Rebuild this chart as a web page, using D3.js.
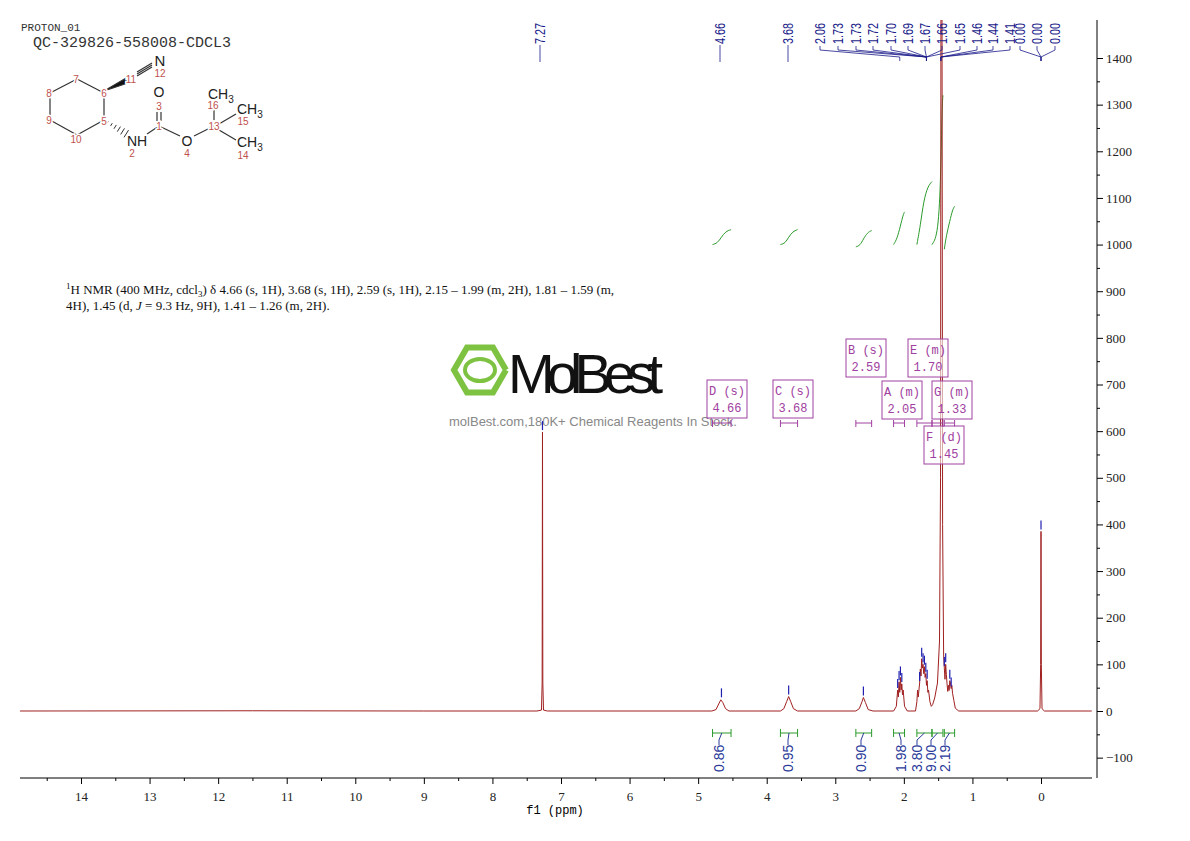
<!DOCTYPE html>
<html><head><meta charset="utf-8">
<script src="https://cdn.jsdelivr.net/npm/d3@7/dist/d3.min.js"></script>
<style>body{margin:0;background:#fff}svg{display:block}</style>
</head><body><svg id="c" width="1190" height="841"></svg>
<script>
// ---------- DATA ----------
const xTicks = [0,1,2,3,4,5,6,7,8,9,10,11,12,13,14];
const yTicks = [-100,0,100,200,300,400,500,600,700,800,900,1000,1100,1200,1300,1400];
// spectrum trace: [ppm, intensity]
const spectrum = [
[14.89,0],[11.5,0.5],[9,0],[7.35,0],[7.285,2],[7.275,60],[7.27,598],[7.265,60],[7.255,2],[7.2,0],
[4.80,0],[4.74,3],[4.70,15],[4.67,24],[4.64,18],[4.60,5],[4.55,0],
[3.80,0],[3.75,5],[3.71,20],[3.68,31],[3.65,20],[3.61,5],[3.55,0],
[2.70,0],[2.65,5],[2.61,20],[2.59,29],[2.56,18],[2.52,3],[2.45,0],
[2.15,0],[2.11,10],[2.09,45],[2.08,30],[2.07,62],[2.06,40],[2.05,72],[2.04,45],[2.03,58],[2.02,35],[2.01,45],[1.99,10],[1.95,0],
[1.83,0],[1.81,20],[1.80,45],[1.79,30],[1.77,60],[1.76,90],[1.75,75],[1.74,112],[1.73,92],[1.72,100],[1.71,80],[1.70,95],[1.69,72],[1.68,80],[1.67,55],[1.66,65],[1.65,40],[1.64,45],[1.62,20],[1.60,10],[1.58,14],[1.55,28],[1.51,60],[1.48,150],[1.465,500],[1.458,1700],[1.45,1700],[1.445,1700],[1.435,400],[1.42,120],[1.41,92],[1.40,68],[1.39,100],[1.38,78],[1.37,58],[1.36,42],[1.35,55],[1.34,44],[1.33,65],[1.32,60],[1.31,48],[1.30,55],[1.29,38],[1.27,22],[1.25,6],[1.20,0],
[0.05,0],[0.015,5],[0.005,100],[0,385],[-0.005,100],[-0.015,5],[-0.05,0],[-0.74,0]];
// peak-picked positions [ppm, intensity]
const picks = [[7.27,598],[4.66,25],[3.68,31],[2.59,29],[2.09,45],[2.07,62],[2.05,72],[2.03,58],[1.77,60],[1.74,112],[1.72,100],[1.70,95],[1.68,80],[1.66,65],[1.41,92],[1.39,100],[1.33,65],[1.31,48],[0,385]];
// top labels
const topLabels = ["7.27","4.66","3.68","2.06","1.73","1.73","1.72","1.70","1.69","1.67","1.66","1.65","1.46","1.44","1.41","0.00","0.00","0.00"];
const topPpm = [7.27,4.66,3.68,2.06,1.67,1.67,1.67,1.67,1.67,1.67,1.67,1.67,1.46,1.46,1.46,0,0,0];
const topLabelX = [540,720,788,820,838,856,873,891,908,925,942,960,977,993,1010,1020,1037,1055];
// integrals: [from ppm, to ppm, value, label x]
const integrals = [[4.79,4.52,"0.86",719],[3.80,3.55,"0.95",788],[2.70,2.47,"0.90",861],[2.15,1.99,"1.98",901],[1.81,1.59,"3.80",917],[1.59,1.43,"9.00",931],[1.41,1.26,"2.19",945]];
// integral curves [ppm, value]
const intCurves = [
 [[4.79,1000],[4.72,1003],[4.66,1016],[4.60,1028],[4.52,1032]],
 [[3.80,1000],[3.73,1003],[3.68,1016],[3.62,1028],[3.55,1032]],
 [[2.70,995],[2.64,998],[2.59,1012],[2.53,1026],[2.47,1030]],
 [[2.15,1000],[2.10,1012],[2.05,1040],[2.01,1064],[1.99,1070]],
 [[1.81,1000],[1.76,1040],[1.71,1095],[1.65,1125],[1.59,1135]],
 [[1.59,1000],[1.50,1020],[1.46,1150],[1.445,1290],[1.43,1320]],
 [[1.41,990],[1.38,1020],[1.33,1050],[1.29,1075],[1.26,1082]]];
// multiplets
const multiplets = [["D (s)","4.66",707,380,4.79,4.52],["C (s)","3.68",773,380,3.80,3.55],["B (s)","2.59",846,339,2.70,2.47],
 ["A (m)","2.05",882,381,2.15,1.99],["E (m)","1.70",908,339,1.81,1.59],["G (m)","1.33",932,381,1.41,1.26],["F (d)","1.45",924,426,1.59,1.43]];

// ---------- CHART ----------
const svg = d3.select("#c");
const x = d3.scaleLinear().domain([14,0]).range([81,1041]);
const y = d3.scaleLinear().domain([0,1400]).range([711,58]);
const L=20,R=1092,T=20,B=778;
svg.append("defs").append("clipPath").attr("id","pc").append("rect").attr("x",L).attr("y",T).attr("width",R-L).attr("height",B-T);

const xa = svg.append("g").attr("transform",`translate(0,${B})`)
 .call(d3.axisBottom(x).tickValues(xTicks).tickFormat(d3.format("d")).tickSize(6).tickPadding(8));
svg.append("g").attr("transform",`translate(0,${B})`).call(d3.axisBottom(x).tickValues(d3.range(0.5,15,1)).tickFormat("").tickSize(3)).select(".domain").remove();
xa.select(".domain").attr("d",`M${L},0H${R}`);
const ya = svg.append("g").attr("transform",`translate(1097,0)`)
 .call(d3.axisRight(y).tickValues(yTicks).tickFormat(d3.format("d")).tickSize(6).tickPadding(3));
ya.select(".domain").attr("d",`M0,${T}V${B}`);
svg.append("g").attr("transform",`translate(1097,0)`).call(d3.axisRight(y).tickValues(d3.range(-50,1450,100)).tickFormat("").tickSize(3)).select(".domain").remove();
svg.selectAll(".tick text").attr("font-family","Liberation Serif").attr("font-size",13).attr("fill","#222");
svg.append("text").attr("x",555).attr("y",814).attr("text-anchor","middle").attr("font-family","Liberation Mono").attr("font-size",12).text("f1 (ppm)");

// watermark
const wm = svg.append("g");
wm.append("path").attr("d",d3.line()(d3.range(7).map(i=>[480+26*Math.cos(Math.PI/3*i),370+26*Math.sin(Math.PI/3*i)]))).attr("fill","none").attr("stroke","#7ec242").attr("stroke-width",6);
wm.append("ellipse").attr("cx",480).attr("cy",370).attr("rx",15).attr("ry",11).attr("fill","none").attr("stroke","#7ec242").attr("stroke-width",4);
wm.append("text").attr("x",508).attr("y",393).attr("font-family","Liberation Sans Narrow, Liberation Sans").attr("font-size",56).attr("fill","#111").attr("textLength",155).text("MolBest");
wm.append("text").attr("x",593).attr("y",426).attr("text-anchor","middle").attr("font-family","Liberation Sans").attr("font-size",13).attr("fill","#888").text("molBest.com,180K+ Chemical Reagents In Stock.");

svg.append("g").selectAll("path").data(intCurves).join("path")
 .attr("d",d3.line().x(d=>x(d[0])).y(d=>y(d[1])).curve(d3.curveBasis))
 .attr("fill","none").attr("stroke","#2a9a2a").attr("stroke-width",1);

svg.append("path").attr("clip-path","url(#pc)").datum(spectrum)
 .attr("d",d3.line().x(d=>x(d[0])).y(d=>y(d[1])))
 .attr("fill","none").attr("stroke","#a02020").attr("stroke-width",1);
svg.append("g").selectAll("line").data(picks).join("line")
 .attr("x1",d=>x(d[0])).attr("x2",d=>x(d[0])).attr("y1",d=>y(d[1])-2).attr("y2",d=>y(d[1])-11)
 .attr("stroke","#2020b0").attr("stroke-width",1.2);

const tl = svg.append("g");
topLabels.forEach((t,i)=>{
 const lx=topLabelX[i], px=x(topPpm[i]);
 tl.append("text").attr("transform",`translate(${lx+5},44) rotate(-90)`).attr("font-family","Liberation Sans Narrow, Liberation Sans").attr("font-size",15).attr("fill","#1a1a8a").attr("textLength",21).attr("lengthAdjust","spacingAndGlyphs").text(t);
 tl.append("path").attr("d",i<3?`M${lx},45V62`:`M${lx},46V50L${px},57V61`).attr("fill","none").attr("stroke","#1a1a8a").attr("stroke-width",0.8);
});

const il = svg.append("g");
integrals.forEach(d=>{
 const a=x(d[0]), b=x(d[1]), c=(a+b)/2;
 il.append("path").attr("d",`M${a},729V737M${a},733H${b}M${b},729V737`).attr("stroke","#2a9a2a").attr("fill","none");
 il.append("path").attr("d",`M${c},733L${d[3]},740V745`).attr("stroke","#2a3a9a").attr("fill","none");
 il.append("text").attr("transform",`translate(${d[3]+5},772) rotate(-90)`).attr("font-family","Liberation Sans").attr("font-size",14).attr("fill","#2a3a9a").text(d[2]);
});

const mg = svg.append("g");
multiplets.forEach(m=>{
 const a=x(m[4]), b=x(m[5]);
 mg.append("rect").attr("x",m[2]).attr("y",m[3]).attr("width",40).attr("height",38).attr("fill","#fff").attr("fill-opacity",0.6).attr("stroke","#a040a0");
 mg.append("text").attr("x",m[2]+20).attr("y",m[3]+15).attr("text-anchor","middle").attr("font-family","Liberation Mono").attr("font-size",12).attr("fill","#a040a0").text(m[0]);
 mg.append("text").attr("x",m[2]+20).attr("y",m[3]+32).attr("text-anchor","middle").attr("font-family","Liberation Mono").attr("font-size",12).attr("fill","#a040a0").text(m[1]);
 mg.append("path").attr("d",`M${a},420V427M${a},423H${b}M${b},420V427`).attr("stroke","#a040a0").attr("fill","none");
});

const nt = svg.append("text").attr("font-family","Liberation Serif").attr("font-size",13).attr("fill","#111");
nt.append("tspan").attr("x",66).attr("y",294).html('<tspan font-size="9" dy="-5">1</tspan><tspan dy="5">H NMR (400 MHz, cdcl</tspan><tspan font-size="9" dy="3">3</tspan><tspan dy="-3">) δ 4.66 (s, 1H), 3.68 (s, 1H), 2.59 (s, 1H), 2.15 – 1.99 (m, 2H), 1.81 – 1.59 (m,</tspan>');
svg.append("text").attr("x",66).attr("y",310).attr("font-family","Liberation Serif").attr("font-size",13).attr("fill","#111").html('4H), 1.45 (d, <tspan font-style="italic">J</tspan> = 9.3 Hz, 9H), 1.41 – 1.26 (m, 2H).');

svg.append("text").attr("x",21).attr("y",31).attr("font-family","Liberation Mono").attr("font-size",11).attr("fill","#333").text("PROTON_01");
svg.append("text").attr("x",33).attr("y",47).attr("font-family","Liberation Mono").attr("font-size",15).attr("fill","#333").text("QC-329826-558008-CDCL3");

// molecule
const mol = svg.append("g").attr("stroke","#333").attr("stroke-width",1.2).attr("fill","none");
const V={7:[77,79],8:[50,93],9:[50,120],10:[77,135],5:[104,120],6:[104,93]};
[[7,8],[8,9],[9,10],[10,5],[5,6],[6,7]].forEach(([p,q])=>mol.append("line").attr("x1",V[p][0]).attr("y1",V[p][1]).attr("x2",V[q][0]).attr("y2",V[q][1]));
mol.append("path").attr("d","M104,91L126,78L128,83Z").attr("fill","#111");
[-2,0,2].forEach(o=>mol.append("line").attr("x1",137).attr("y1",74+o).attr("x2",152).attr("y2",65+o));
for(let i=0;i<6;i++){const t=(i+1)/7;const cx=104+t*26,cy=120+t*16,h=1+i*0.7;mol.append("line").attr("x1",cx-h*0.5).attr("y1",cy+h*0.8).attr("x2",cx+h*0.5).attr("y2",cy-h*0.8).attr("stroke-width",1);}
mol.append("line").attr("x1",147).attr("y1",134).attr("x2",159).attr("y2",126);
mol.append("line").attr("x1",159).attr("y1",126).attr("x2",180).attr("y2",136);
mol.append("line").attr("x1",194).attr("y1",136).attr("x2",214).attr("y2",126);
mol.append("line").attr("x1",157).attr("y1",112).attr("x2",157).attr("y2",121);
mol.append("line").attr("x1",161).attr("y1",112).attr("x2",161).attr("y2",121);
mol.append("line").attr("x1",214).attr("y1",102).attr("x2",214).attr("y2",120);
mol.append("line").attr("x1",219).attr("y1",124).attr("x2",236).attr("y2",114);
mol.append("line").attr("x1",219).attr("y1",130).attr("x2",236).attr("y2",140);
const at=(t,xx,yy,s,c)=>svg.append("text").attr("x",xx).attr("y",yy).attr("text-anchor","middle").attr("font-family","Liberation Sans").attr("font-size",s).attr("fill",c).attr("stroke","#fff").attr("stroke-width",3).attr("paint-order","stroke").text(t);
const red="#c0504d";
[["7",76,83],["8",49,97],["9",49,124],["10",76,143],["5",104,125],["6",104,97],["11",131,83],["12",160,77],["2",132,157],["3",159,110],["1",159,130],["4",187,157],["13",214,130],["16",213,109],["15",243,125],["14",243,159]].forEach(d=>at(d[0],d[1],d[2],10,red));
at("N",160,66,15,"#222");at("NH",137,146,14,"#222");at("O",159,97,14,"#222");at("O",187,146,14,"#222");
svg.append("text").attr("x",208).attr("y",99).attr("font-family","Liberation Sans").attr("font-size",14).attr("fill","#222").html('CH<tspan font-size="10" dy="4">3</tspan>');
svg.append("text").attr("x",237).attr("y",114).attr("font-family","Liberation Sans").attr("font-size",14).attr("fill","#222").html('CH<tspan font-size="10" dy="4">3</tspan>');
svg.append("text").attr("x",237).attr("y",147).attr("font-family","Liberation Sans").attr("font-size",14).attr("fill","#222").html('CH<tspan font-size="10" dy="4">3</tspan>');
</script></body></html>
